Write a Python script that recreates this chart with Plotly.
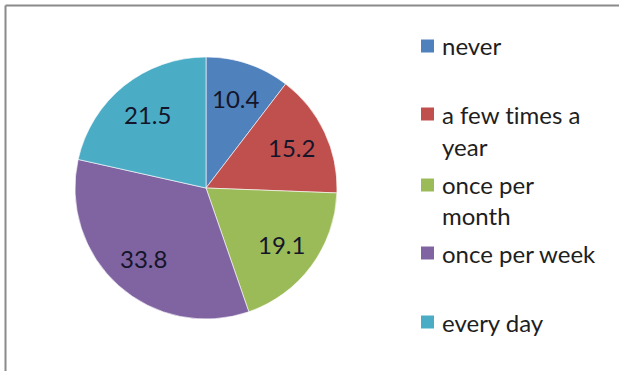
import math
import plotly.graph_objects as go

# Survey answer categories and their shares (percent)
categories = ["never", "a few times a year", "once per month", "once per week", "every day"]
values = [10.4, 15.2, 19.1, 33.8, 21.5]
colors = ["#4F81BD", "#C0504D", "#9BBB59", "#8064A2", "#4BACC6"]
# Legend text split into the lines shown beside each swatch
legend_lines = [["never"], ["a few times a", "year"], ["once per", "month"], ["once per week"], ["every day"]]
legend_rows_y = [[46], [114, 146], [185, 215], [253], [322]]

W, H = 619, 371
FONT = "Lato, Open Sans, sans-serif"

# pie geometry in pixels
CX, CY, R = 206, 188, 131
LABEL_FRAC = 0.72

fig = go.Figure(go.Pie(
    labels=categories,
    values=values,
    sort=False,
    direction="clockwise",
    rotation=0,
    marker=dict(colors=colors, line=dict(color="rgba(255,255,255,0.6)", width=1)),
    textinfo="none",
    domain=dict(x=[(CX - R) / W, (CX + R) / W], y=[1 - (CY + R) / H, 1 - (CY - R) / H]),
    hoverinfo="label+value",
    showlegend=False,
))

annotations = []
# value labels placed at the middle angle of each slice
total = sum(values)
cum = 0.0
for v in values:
    mid = (cum + v / 2) / total * 2 * math.pi
    cum += v
    px = CX + LABEL_FRAC * R * math.sin(mid)
    py = CY - LABEL_FRAC * R * math.cos(mid)
    annotations.append(dict(text=f"{v}", xref="paper", yref="paper", x=px / W, y=1 - py / H,
                            xanchor="center", yanchor="middle", showarrow=False,
                            font=dict(family=FONT, size=24, color="#15152a")))

shapes = [
    # chart frame (top and left edges)
    dict(type="line", xref="paper", yref="paper", x0=5.5 / W, x1=1, y0=1 - 5.5 / H, y1=1 - 5.5 / H,
         line=dict(color="#8a8a8a", width=2)),
    dict(type="line", xref="paper", yref="paper", x0=5.5 / W, x1=5.5 / W, y0=0, y1=1 - 5.5 / H,
         line=dict(color="#8a8a8a", width=2)),
]
for color, lines, ys in zip(colors, legend_lines, legend_rows_y):
    y0 = ys[0]
    shapes.append(dict(type="rect", xref="paper", yref="paper",
                       x0=421 / W, x1=434 / W, y0=1 - (y0 + 6.5) / H, y1=1 - (y0 - 6.5) / H,
                       fillcolor=color, line=dict(width=0)))
    for text, y in zip(lines, ys):
        # zero-width non-joiner keeps "ti" from turning into a ligature
        shown = text.replace("ti", "t\u200ci")
        annotations.append(dict(text=shown, xref="paper", yref="paper", x=440 / W, y=1 - y / H,
                                xanchor="left", yanchor="middle", showarrow=False,
                                font=dict(family=FONT, size=24, color="#1e1e1e")))

fig.update_layout(
    width=W, height=H,
    margin=dict(l=0, r=0, t=0, b=0),
    paper_bgcolor="white",
    plot_bgcolor="white",
    shapes=shapes,
    annotations=annotations,
)

fig.write_html("out.html")
